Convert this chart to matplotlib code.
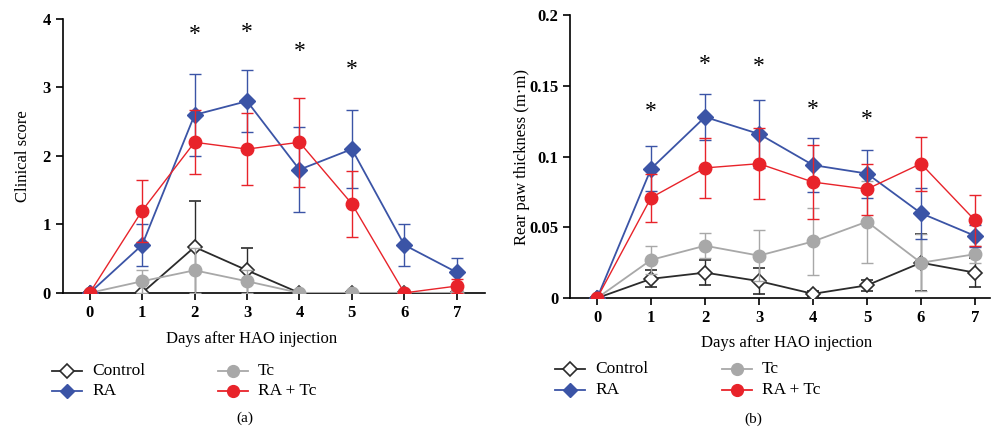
import matplotlib
matplotlib.use("Agg")
import matplotlib.pyplot as plt
from matplotlib.lines import Line2D

plt.rcParams['font.family'] = ['Liberation Serif', 'DejaVu Serif']

days = [0, 1, 2, 3, 4, 5, 6, 7]
groups = ["Control", "RA", "Tc", "RA + Tc"]

# Panel (a): clinical score
a_control = [0, 0, 0.67, 0.33, 0, 0, 0, 0]
a_control_err = [0, 0, 0.67, 0.33, 0, 0, 0, 0]
a_tc = [0, 0.17, 0.33, 0.17, 0, 0, 0, 0]
a_tc_err = [0, 0.17, 0.33, 0.17, 0, 0, 0, 0]
a_ra = [0, 0.7, 2.6, 2.8, 1.8, 2.1, 0.7, 0.3]
a_ra_err = [0, 0.3, 0.6, 0.45, 0.62, 0.57, 0.3, 0.21]
a_ratc = [0, 1.2, 2.2, 2.1, 2.2, 1.3, 0, 0.1]
a_ratc_err = [0, 0.45, 0.47, 0.53, 0.65, 0.48, 0, 0.1]
a_star_x = [2, 3, 4, 5]
a_star_y = [3.78, 3.8, 3.52, 3.26]

# Panel (b): rear paw thickness
b_control = [0, 0.0136, 0.018, 0.012, 0.003, 0.009, 0.025, 0.018]
b_control_err = [0, 0.006, 0.009, 0.009, 0.002, 0.004, 0.02, 0.01]
b_tc = [0, 0.027, 0.037, 0.030, 0.040, 0.054, 0.025, 0.031]
b_tc_err = [0, 0.010, 0.009, 0.018, 0.024, 0.029, 0.02, 0.006]
b_ra = [0, 0.0915, 0.128, 0.116, 0.094, 0.088, 0.060, 0.044]
b_ra_err = [0, 0.016, 0.016, 0.024, 0.019, 0.017, 0.018, 0.008]
b_ratc = [0, 0.071, 0.092, 0.095, 0.082, 0.077, 0.095, 0.055]
b_ratc_err = [0, 0.017, 0.021, 0.025, 0.026, 0.018, 0.019, 0.018]
b_star_x = [1, 2, 3, 4, 5]
b_star_y = [0.132, 0.165, 0.164, 0.133, 0.126]

C_BLUE = "#3b54a6"
C_RED = "#e8232a"
C_GRAY = "#a8a8a8"
C_BLACK = "#2b2b2b"

W, H = 995, 432
fig = plt.figure(figsize=(W / 100, H / 100), dpi=100)
axa = fig.add_axes([0.063, 0.322, 0.424, 0.634])
axb = fig.add_axes([0.573, 0.310, 0.422, 0.655])

STYLES = {
    "Control": dict(color=C_BLACK, marker="D", mfc="white", mec=C_BLACK, mew=1.2, ms=7.5, lw=1.3, z=3),
    "Tc": dict(color=C_GRAY, marker="o", mfc=C_GRAY, mec=C_GRAY, mew=1.0, ms=9, lw=1.3, z=4),
    "RA": dict(color=C_BLUE, marker="D", mfc=C_BLUE, mec=C_BLUE, mew=1.0, ms=8, lw=1.3, z=5),
    "RA + Tc": dict(color=C_RED, marker="o", mfc=C_RED, mec=C_RED, mew=1.0, ms=9, lw=1.0, z=6),
}


def draw(ax, series):
    for name, (vals, errs) in series.items():
        s = STYLES[name]
        ax.errorbar(days, vals, yerr=errs, color=s["color"], ecolor=s["color"],
                    marker=s["marker"], markerfacecolor=s["mfc"], markeredgecolor=s["mec"],
                    markeredgewidth=s["mew"], markersize=s["ms"], lw=s["lw"],
                    capsize=4, elinewidth=1.0, capthick=1.0, zorder=s["z"])


def style(ax):
    for sp in ["top", "right"]:
        ax.spines[sp].set_visible(False)
    for sp in ["left", "bottom"]:
        ax.spines[sp].set_linewidth(1.2)
    ax.set_xticks(days)
    ax.tick_params(axis="both", direction="out", length=5, width=1.2, labelsize=12)
    for lab in ax.get_xticklabels() + ax.get_yticklabels():
        lab.set_fontweight("bold")


draw(axa, {"Control": (a_control, a_control_err), "Tc": (a_tc, a_tc_err),
           "RA": (a_ra, a_ra_err), "RA + Tc": (a_ratc, a_ratc_err)})
axa.set_xlim(-0.515, 7.53)
axa.set_ylim(0, 4)
axa.set_yticks([0, 1, 2, 3, 4])
axa.set_yticklabels(["0", "1", "2", "3", "4"])
axa.set_ylabel("Clinical score", fontsize=12)
for x, y in zip(a_star_x, a_star_y):
    axa.text(x, y, "*", ha="center", va="center", fontsize=17)
style(axa)

draw(axb, {"Control": (b_control, b_control_err), "Tc": (b_tc, b_tc_err),
           "RA": (b_ra, b_ra_err), "RA + Tc": (b_ratc, b_ratc_err)})
axb.set_xlim(-0.5, 7.28)
axb.set_ylim(0, 0.2)
axb.set_yticks([0, 0.05, 0.1, 0.15, 0.2])
axb.set_yticklabels(["0", "0.05", "0.1", "0.15", "0.2"])
axb.set_ylabel("Rear paw thickness (m·m)", fontsize=12)
for x, y in zip(b_star_x, b_star_y):
    axb.text(x, y, "*", ha="center", va="center", fontsize=17)
style(axb)

axa.yaxis.set_label_coords(-0.075, 0.5)
axb.yaxis.set_label_coords(-0.095, 0.5)

# x-axis labels (placed as in reference)
fig.text(252 / W, 1 - 339 / H, "Days after HAO injection", ha="center", va="center", fontsize=12)
fig.text(787 / W, 1 - 343 / H, "Days after HAO injection", ha="center", va="center", fontsize=12)


def legend_entry(x0, y, name):
    s = STYLES[name]
    fig.add_artist(Line2D([x0 / W, (x0 + 30) / W], [1 - y / H, 1 - y / H],
                          color=s["color"], lw=1.3, transform=fig.transFigure))
    fig.add_artist(Line2D([(x0 + 15) / W], [1 - y / H], marker=s["marker"], ls="none",
                          markerfacecolor=s["mfc"], markeredgecolor=s["mec"],
                          markeredgewidth=s["mew"], markersize=s["ms"] - 0.5,
                          transform=fig.transFigure))
    fig.text((x0 + 40) / W, 1 - y / H, name, ha="left", va="center", fontsize=12.5)


for (c1, c2, r1, r2) in [(52, 218, 371, 391), (555, 722, 369, 390)]:
    legend_entry(c1, r1, "Control")
    legend_entry(c1, r2, "RA")
    legend_entry(c2, r1, "Tc")
    legend_entry(c2, r2, "RA + Tc")

fig.text(245 / W, 1 - 418 / H, "(a)", ha="center", va="center", fontsize=11)
fig.text(753 / W, 1 - 419 / H, "(b)", ha="center", va="center", fontsize=11)

fig.savefig("out.png", dpi=100)
